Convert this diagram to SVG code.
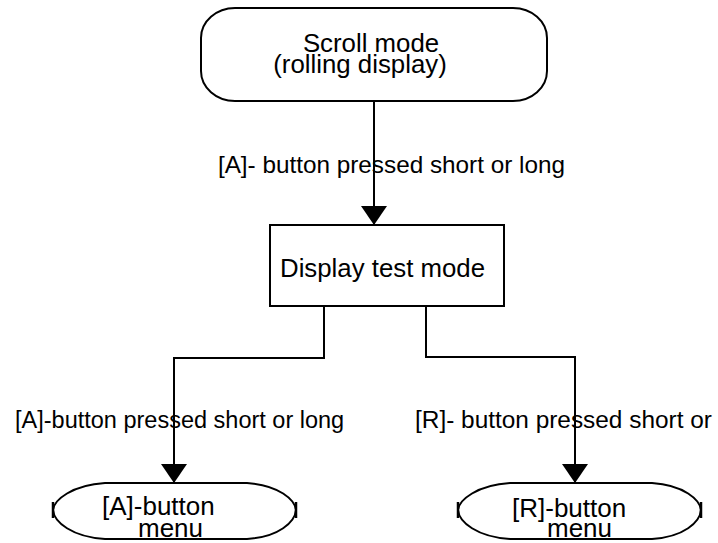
<svg xmlns="http://www.w3.org/2000/svg" width="718" height="543" viewBox="0 0 718 543">
<defs>
<style>
.shape{fill:#fff;stroke:#000;stroke-width:2}
.conn{fill:none;stroke:#000;stroke-width:2}
.tick{stroke:#000;stroke-width:2.5}
text{font-family:"Liberation Sans",Arial,sans-serif;font-size:24px;fill:#000}
.mid{text-anchor:middle}
.big{font-size:25.8px}
.menu{font-size:26px}
</style>
<marker id="arr" markerUnits="userSpaceOnUse" markerWidth="20" markerHeight="26" viewBox="0 0 20 26" refX="18" refY="13" orient="auto">
<path d="M0,0 L19,13 L0,26 Z" fill="#000"/>
</marker>
</defs>
<rect width="718" height="543" fill="#fff"/>
<g id="connectors">
<path class="conn" d="M374,101 V224" marker-end="url(#arr)"/>
<path class="conn" d="M324,306 V358 H174 V482" marker-end="url(#arr)"/>
<path class="conn" d="M426,306 V357 H575 V482" marker-end="url(#arr)"/>
<text x="565" y="173" text-anchor="end" style="font-size:24.3px">[A]- button pressed short or long</text>
<text x="15" y="428" style="font-size:23.5px">[A]-button pressed short or long</text>
<text x="415" y="428" style="font-size:24.4px">[R]- button pressed short or</text>
</g>
<g id="scroll-mode">
<rect class="shape" x="201" y="8" width="346" height="93" rx="34" ry="30"/>
<text class="mid big" x="371" y="52">Scroll mode</text>
<text class="mid big" x="360" y="73">(rolling display)</text>
</g>
<g id="display-test-mode">
<rect class="shape" x="270" y="225" width="234" height="81"/>
<text class="big" x="280" y="277">Display test mode</text>
</g>
<g id="a-button-menu">
<path class="shape" d="M105,483 H247 C279,485 295,500 296,510 C295,522 279,537 247,539 H105 C72,537 54,522 53,510 C54,500 72,485 105,483 Z"/>
<line class="tick" x1="296" y1="502" x2="296" y2="518"/>
<line class="tick" x1="53" y1="502" x2="53" y2="518"/>
<text class="menu" x="102" y="515">[A]-button</text>
<text class="menu" x="138" y="537">menu</text>
</g>
<g id="r-button-menu">
<path class="shape" d="M510,483 H652 C684,485 700,500 701,510 C700,522 684,537 652,539 H510 C477,537 459,522 458,510 C459,500 477,485 510,483 Z"/>
<line class="tick" x1="701" y1="502" x2="701" y2="518"/>
<line class="tick" x1="458" y1="502" x2="458" y2="518"/>
<text class="menu" x="512" y="517">[R]-button</text>
<text class="menu" x="547" y="537">menu</text>
</g>
</svg>
